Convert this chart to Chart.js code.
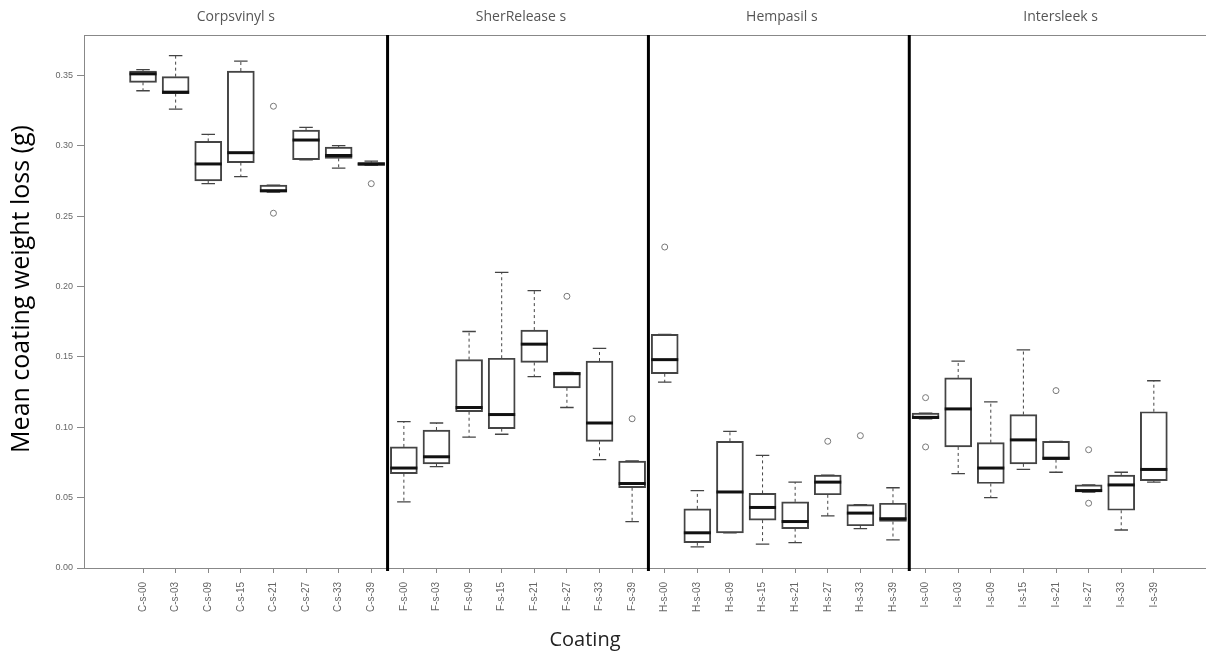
<!DOCTYPE html>
<html>
<head>
<meta charset="utf-8">
<script src="https://cdn.jsdelivr.net/npm/chart.js@4.4.1/dist/chart.umd.min.js"></script>
<style>
  body { margin: 0; background: #fff; }
</style>
</head>
<body>
<canvas id="boxChart" width="1206" height="660"></canvas>
<script>
const categories = [
    'C-s-00', 'C-s-03', 'C-s-09', 'C-s-15', 'C-s-21', 'C-s-27', 'C-s-33', 'C-s-39',
    'F-s-00', 'F-s-03', 'F-s-09', 'F-s-15', 'F-s-21', 'F-s-27', 'F-s-33', 'F-s-39',
    'H-s-00', 'H-s-03', 'H-s-09', 'H-s-15', 'H-s-21', 'H-s-27', 'H-s-33', 'H-s-39',
    'I-s-00', 'I-s-03', 'I-s-09', 'I-s-15', 'I-s-21', 'I-s-27', 'I-s-33', 'I-s-39'
];
const groups = ['Corpsvinyl s', 'SherRelease s', 'Hempasil s', 'Intersleek s'];

// five-number summaries
const whiskerLow = [
    0.339, 0.326, 0.273, 0.278, 0.267, 0.290, 0.284, 0.286,
    0.047, 0.072, 0.093, 0.095, 0.136, 0.114, 0.077, 0.033,
    0.132, 0.015, 0.025, 0.017, 0.018, 0.037, 0.028, 0.020,
    0.106, 0.067, 0.050, 0.070, 0.068, 0.054, 0.027, 0.061
];
const boxLow = [
    0.345, 0.337, 0.275, 0.288, 0.267, 0.290, 0.291, 0.286,
    0.067, 0.074, 0.111, 0.099, 0.146, 0.128, 0.090, 0.057,
    0.138, 0.018, 0.025, 0.034, 0.028, 0.052, 0.030, 0.033,
    0.106, 0.086, 0.060, 0.074, 0.077, 0.054, 0.041, 0.062
];
const medians = [
    0.351, 0.338, 0.287, 0.295, 0.268, 0.304, 0.293, 0.287,
    0.071, 0.079, 0.114, 0.109, 0.159, 0.138, 0.103, 0.060,
    0.148, 0.025, 0.054, 0.043, 0.033, 0.061, 0.039, 0.035,
    0.107, 0.113, 0.071, 0.091, 0.078, 0.055, 0.059, 0.070
];
const boxHigh = [
    0.353, 0.349, 0.303, 0.353, 0.272, 0.311, 0.299, 0.288,
    0.086, 0.098, 0.148, 0.149, 0.169, 0.139, 0.147, 0.076,
    0.166, 0.042, 0.090, 0.053, 0.047, 0.066, 0.045, 0.046,
    0.110, 0.135, 0.089, 0.109, 0.090, 0.059, 0.066, 0.111
];
const whiskerHigh = [
    0.354, 0.364, 0.308, 0.360, 0.272, 0.313, 0.300, 0.289,
    0.104, 0.103, 0.168, 0.210, 0.197, 0.139, 0.156, 0.076,
    0.166, 0.055, 0.097, 0.080, 0.061, 0.066, 0.045, 0.057,
    0.110, 0.147, 0.118, 0.155, 0.090, 0.059, 0.068, 0.133
];
const outlierCat = ['C-s-21', 'C-s-21', 'C-s-39', 'F-s-27', 'F-s-39', 'H-s-00', 'H-s-27', 'H-s-33',
    'I-s-00', 'I-s-00', 'I-s-21', 'I-s-27', 'I-s-27'];
const outlierVal = [0.328, 0.252, 0.273, 0.193, 0.106, 0.228, 0.090, 0.094,
    0.121, 0.086, 0.126, 0.084, 0.046];

const yTicks = [0, 0.05, 0.10, 0.15, 0.20, 0.25, 0.30, 0.35];

// whiskers, caps, medians, group dividers and labels
const boxExtras = {
    id: 'boxExtras',
    afterDatasetsDraw(chart) {
        const ctx = chart.ctx;
        const xs = chart.scales.x, ys = chart.scales.y;
        const bars = chart.getDatasetMeta(0).data;
        ctx.save();
        categories.forEach((c, i) => {
            const x = xs.getPixelForValue(i);
            const w = bars[i].width;
            const yLo = ys.getPixelForValue(whiskerLow[i]);
            const yHi = ys.getPixelForValue(whiskerHigh[i]);
            const yQ1 = ys.getPixelForValue(boxLow[i]);
            const yQ3 = ys.getPixelForValue(boxHigh[i]);
            ctx.strokeStyle = '#444';
            ctx.lineWidth = 1;
            ctx.setLineDash([3, 3]);
            ctx.beginPath();
            ctx.moveTo(x, yQ3); ctx.lineTo(x, yHi);
            ctx.moveTo(x, yQ1); ctx.lineTo(x, yLo);
            ctx.stroke();
            ctx.setLineDash([]);
            ctx.lineWidth = 1.3;
            ctx.beginPath();
            ctx.moveTo(x - w / 4, yHi); ctx.lineTo(x + w / 4, yHi);
            ctx.moveTo(x - w / 4, yLo); ctx.lineTo(x + w / 4, yLo);
            ctx.stroke();
            ctx.strokeStyle = '#111';
            ctx.lineWidth = 3;
            const yM = ys.getPixelForValue(medians[i]);
            ctx.beginPath();
            ctx.moveTo(x - w / 2, yM); ctx.lineTo(x + w / 2, yM);
            ctx.stroke();
        });
        ctx.restore();
    },
    afterDraw(chart) {
        const ctx = chart.ctx;
        const xs = chart.scales.x;
        const a = chart.chartArea;
        ctx.save();
        ctx.strokeStyle = '#888';
        ctx.lineWidth = 1;
        ctx.strokeRect(a.left + 0.5, a.top + 0.5, a.right - a.left + 2, a.bottom - a.top);
        ctx.strokeStyle = '#000';
        ctx.lineWidth = 3;
        const edges = [a.left];
        for (let g = 1; g < groups.length; g++) {
            const x = xs.getPixelForValue(g * 8 - 0.5);
            edges.push(x);
            ctx.beginPath();
            ctx.moveTo(x, a.top);
            ctx.lineTo(x, a.bottom + 3);
            ctx.stroke();
        }
        edges.push(a.right);
        ctx.fillStyle = '#555';
        ctx.font = '14px "Open Sans"';
        ctx.textAlign = 'center';
        ctx.textBaseline = 'middle';
        groups.forEach((g, i) => {
            ctx.fillText(g, (edges[i] + edges[i + 1]) / 2 + (i ? 3 : 0), 17);
        });
        ctx.fillStyle = '#222';
        ctx.font = '20px "Open Sans"';
        ctx.fillText('Coating', 585, 640);
        ctx.fillStyle = '#000';
        ctx.font = '25px "Open Sans"';
        ctx.translate(22, 289);
        ctx.rotate(-Math.PI / 2);
        ctx.fillText('Mean coating weight loss (g)', 0, 0);
        ctx.restore();
    }
};

const chart = new Chart(document.getElementById('boxChart'), {
    type: 'bar',
    data: {
        datasets: [{
            label: 'box',
            data: categories.map((c, i) => ({ x: i, y: [boxLow[i], boxHigh[i]] })),
            backgroundColor: 'rgba(255,255,255,0)',
            borderColor: '#444',
            borderWidth: 1.3,
            borderSkipped: false,
            barThickness: 27
        }, {
            type: 'scatter',
            label: 'outliers',
            data: outlierCat.map((c, i) => ({ x: categories.indexOf(c), y: outlierVal[i] })),
            pointStyle: 'circle',
            pointRadius: 3,
            borderColor: '#777',
            borderWidth: 1,
            backgroundColor: 'rgba(255,255,255,0)'
        }]
    },
    options: {
        responsive: false,
        animation: false,
        layout: { autoPadding: false, padding: { top: 35, right: 0, left: 0, bottom: 0 } },
        plugins: {
            legend: { display: false },
            tooltip: { enabled: false }
        },
        scales: {
            x: {
                type: 'linear',
                min: -1.81,
                max: 32.6,
                offset: false,
                afterBuildTicks: (scale) => {
                    scale.ticks = categories.map((c, i) => ({ value: i }));
                },
                afterFit: (scale) => {
                    scale.height = 92;
                    scale.paddingLeft = 0;
                    scale.paddingRight = 0;
                },
                ticks: {
                    autoSkip: false,
                    minRotation: 90,
                    maxRotation: 90,
                    padding: 9,
                    color: '#666',
                    font: { family: 'Liberation Sans', size: 10 },
                    callback: (v) => categories[v]
                },
                grid: { drawOnChartArea: false, offset: false, tickLength: 5, color: '#888' },
                border: { display: false }
            },
            y: {
                min: 0,
                max: 0.3786,
                afterBuildTicks: (scale) => {
                    scale.ticks = yTicks.map(v => ({ value: v }));
                },
                afterFit: (scale) => {
                    scale.width = 84;
                    scale.paddingTop = 0;
                    scale.paddingBottom = 0;
                },
                ticks: {
                    padding: 4,
                    color: '#666',
                    font: { family: 'Liberation Sans', size: 9 },
                    callback: (v) => v.toFixed(2)
                },
                grid: { drawOnChartArea: false, tickLength: 7, color: '#888' },
                border: { display: false }
            }
        }
    },
    plugins: [boxExtras]
});
</script>
</body>
</html>
